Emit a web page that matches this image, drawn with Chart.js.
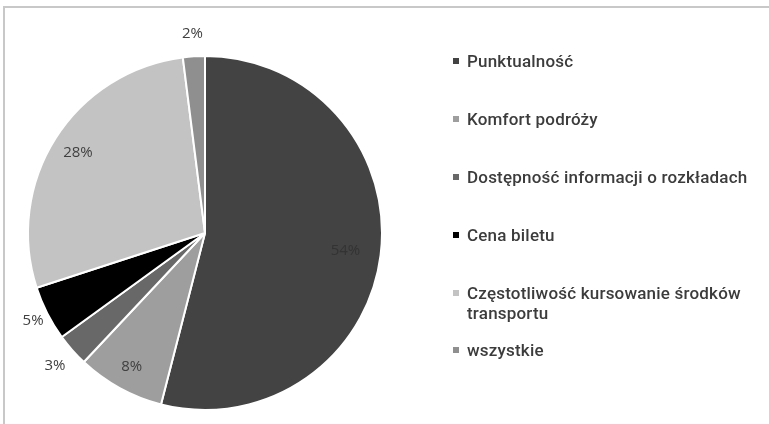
<!DOCTYPE html>
<html lang="pl">
<head>
<meta charset="utf-8">
<script src="https://cdn.jsdelivr.net/npm/chart.js@4"></script>
<style>
    html, body { margin: 0; padding: 0; background: #fff; }
    #wrap { position: relative; width: 769px; height: 424px; overflow: hidden; }
    #frame {
        position: absolute; left: 3px; top: 6px; right: -10px; bottom: -10px;
        border-top: 2px solid #c8c8c8; border-left: 2px solid #c8c8c8;
    }
    #chart-pie { position: absolute; left: 0; top: 0; }
    #legend {
        position: absolute; left: 452px; top: 51px; width: 312px;
        margin: 0; padding: 0; list-style: none;
        font-family: Roboto, sans-serif; font-size: 17px; font-weight: 500; color: #3c3c3c;
        letter-spacing: 0.2px;
    }
    #legend li { position: relative; padding-left: 15px; line-height: 20px; margin-bottom: 38px; }
    #legend li.tight { margin-bottom: 17px; }
    #legend li span {
        position: absolute; left: 1px; top: 7px; width: 6px; height: 6px;
    }
</style>
</head>
<body>
<div id="wrap">
    <div id="frame"></div>
    <canvas id="chart-pie" width="769" height="424"></canvas>
    <ul id="legend"></ul>
</div>
<script>
const categories = [
    'Punktualność',
    'Komfort podróży',
    'Dostępność informacji o rozkładach',
    'Cena biletu',
    'Częstotliwość kursowanie środków transportu',
    'wszystkie'
];
const shares = [54, 8, 3, 5, 28, 2];
const sliceColors = ['#434343', '#9e9e9e', '#686868', '#000000', '#c3c3c3', '#8f8f8f'];

// distance of each percentage label from the centre, as a fraction of the radius
const labelDistance = [0.8, 0.86, 1.13, 1.09, 0.85, 1.13];
const labelColors = ['#333333', '#404040', '#404040', '#404040', '#404040', '#404040'];

const pieLabels = {
    id: 'pieLabels',
    afterDatasetsDraw(chart) {
        const ctx = chart.ctx;
        const meta = chart.getDatasetMeta(0);
        ctx.save();
        ctx.font = '15px "Open Sans", sans-serif';
        ctx.textAlign = 'center';
        ctx.textBaseline = 'middle';
        meta.data.forEach((arc, i) => {
            const p = arc.getProps(['x', 'y', 'startAngle', 'endAngle', 'outerRadius'], true);
            const mid = (p.startAngle + p.endAngle) / 2;
            const r = p.outerRadius * labelDistance[i];
            ctx.fillStyle = labelColors[i];
            ctx.fillText(shares[i] + '%', p.x + Math.cos(mid) * r, p.y + Math.sin(mid) * r);
        });
        ctx.restore();
    }
};

const legend = document.getElementById('legend');
categories.forEach((name, i) => {
    const li = document.createElement('li');
    if (i === 4) li.className = 'tight';
    const box = document.createElement('span');
    box.style.background = sliceColors[i];
    li.appendChild(box);
    li.appendChild(document.createTextNode(name));
    legend.appendChild(li);
});

new Chart(document.getElementById('chart-pie'), {
    type: 'pie',
    data: {
        labels: categories,
        datasets: [{
            data: shares,
            backgroundColor: sliceColors,
            borderColor: '#ffffff',
            borderWidth: 2
        }]
    },
    options: {
        responsive: false,
        animation: false,
        layout: {
            padding: { left: 27, top: 55, right: 386, bottom: 13 }
        },
        plugins: {
            legend: { display: false },
            tooltip: { enabled: false }
        }
    },
    plugins: [pieLabels]
});
</script>
</body>
</html>
